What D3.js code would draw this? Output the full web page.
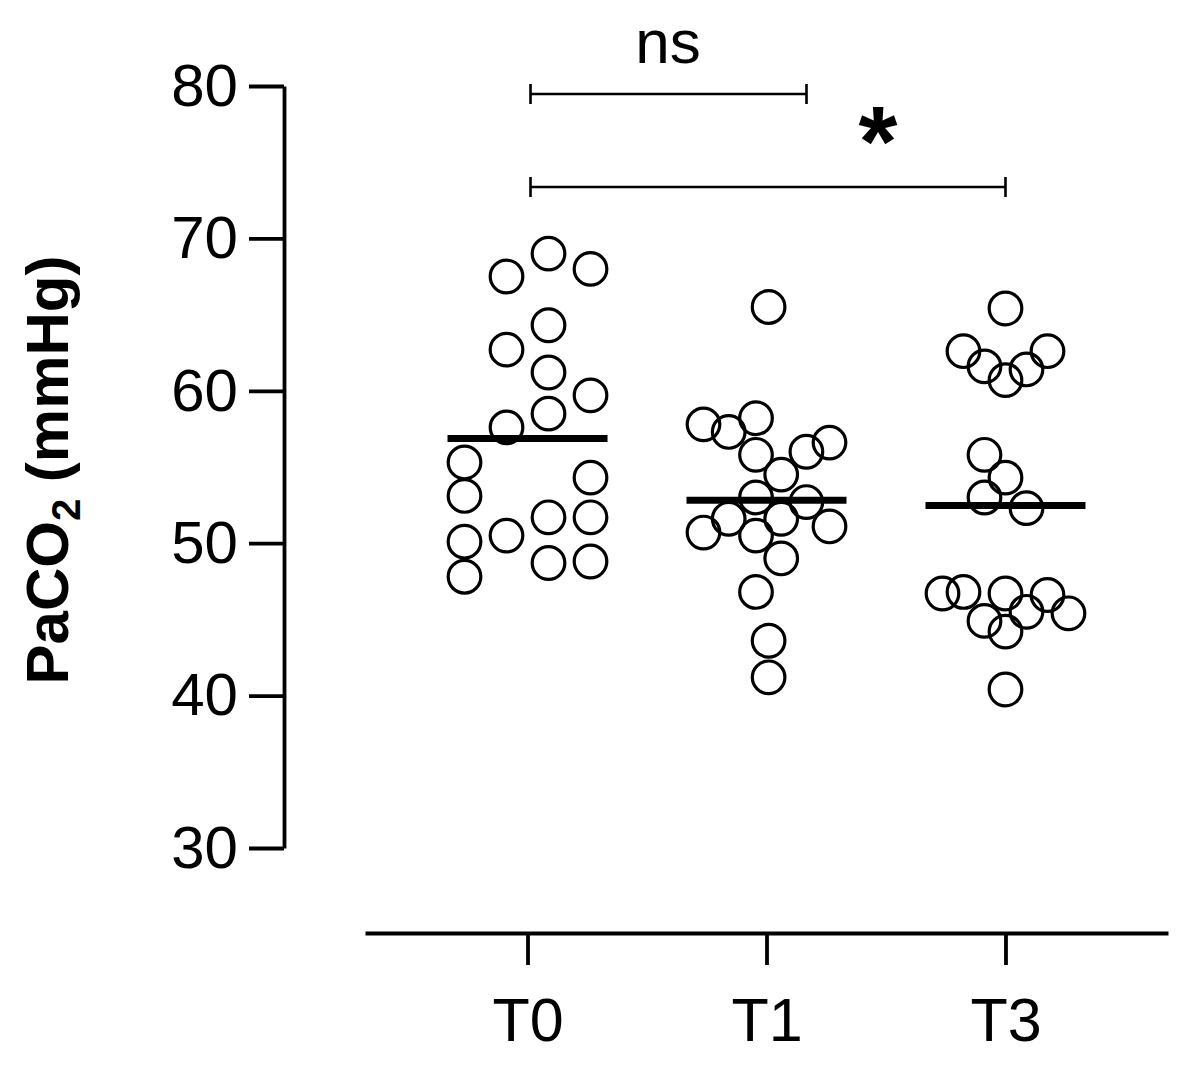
<!DOCTYPE html>
<html>
<head>
    <title>PaCO2</title>
    <script src="https://d3js.org/d3.v7.min.js"></script>
    <style>
      body{ margin:0; background:white; }
      svg{ font-family:"Liberation Sans", Arial, sans-serif; }
      .dot{ fill:none; stroke:black; stroke-width:3.2; }
      .mean{ stroke:black; stroke-width:7; }
      .axis path, .axis line{ stroke:black; stroke-width:3.8; }
      .axis text{ fill:black; }
      .bracket{ fill:none; stroke:black; stroke-width:2.6; }
    </style>
</head>
<body>
<script>
// groups on the x axis
var categories = ["T0", "T1", "T3"];

// PaCO2 readings (mmHg)
var valuesT0 = [69.0, 67.5, 68.0, 64.3, 62.7, 61.2, 59.7, 58.5, 57.6, 55.3,
                53.1, 54.3, 51.7, 51.7, 50.1, 50.5, 48.7, 48.8, 47.8];
var valuesT1 = [65.5, 57.8, 57.3, 58.2, 55.8, 56.0, 56.6, 54.5, 53.0, 52.7,
                51.6, 51.6, 50.7, 51.1, 50.5, 49.0, 46.8, 43.6, 41.2];
var valuesT3 = [65.4, 62.6, 61.6, 60.7, 61.4, 62.6, 55.8, 54.3, 53.0, 52.3,
                46.7, 46.8, 46.7, 46.6, 44.9, 45.5, 45.4, 44.2, 40.4];

// horizontal dodge of each dot (in half-dot columns), as the figure spreads them
var spreadT0 = [1, -1, 3, 1, -1, 1, 3, 1, -1, -3, -3, 3, 1, 3, -3, -1, 1, 3, -3];
var spreadT1 = [0.1, -3, -1.8, -0.5, -0.5, 1.9, 3, 0.7, -0.5, 1.9, -1.8, 0.7, -3, 3, -0.5, 0.7, -0.5, 0.1, 0.1];
var spreadT3 = [0, -2, -1, 0, 1, 2, -1, 0, -1, 1, -3, -2, 0, 2, -1, 1, 3, 0, 0];

var yTicks = [30, 40, 50, 60, 70, 80];

// significance brackets
var comparisons = [
  {from:"T0", to:"T1", label:"ns"},
  {from:"T0", to:"T3", label:"*"}
];

var groups = [
  {name:"T0", values:valuesT0, spread:spreadT0},
  {name:"T1", values:valuesT1, spread:spreadT1},
  {name:"T3", values:valuesT3, spread:spreadT3}
];

var svg = d3.select("body").append("svg").attr("width", 1190).attr("height", 1072);

var y = d3.scaleLinear().domain([30, 80]).range([848, 86]);
var x = d3.scalePoint().domain(categories).range([365, 1168]).padding(0.68);
var col = 21, r = 16.3;

// y axis
var yAxis = svg.append("g").attr("class", "axis").attr("transform", "translate(284,0)")
  .call(d3.axisLeft(y).tickValues(yTicks).tickSize(35).tickSizeOuter(0).tickPadding(11));
yAxis.selectAll("text").style("font-size", "60px");

// x axis
var xAxis = svg.append("g").attr("class", "axis").attr("transform", "translate(0,933)")
  .call(d3.axisBottom(x).tickSize(32).tickSizeOuter(0).tickPadding(33));
xAxis.selectAll("text").style("font-size", "61px");

// y title
var title = svg.append("text")
  .attr("transform", "translate(68,470) rotate(-90)")
  .attr("text-anchor", "middle")
  .style("font-size", "60px").style("font-weight", "bold");
title.append("tspan").text("PaCO");
title.append("tspan").text("2").style("font-size", "40px").attr("dy", "12");
title.append("tspan").text(" (mmHg)").attr("dy", "-12");

// dots
groups.forEach(function(g){
  svg.append("g").selectAll("circle").data(g.values).enter().append("circle")
    .attr("class", "dot")
    .attr("cx", function(d, i){ return x(g.name) + g.spread[i] * col; })
    .attr("cy", function(d){ return y(d); })
    .attr("r", r);
});

// mean lines
svg.append("g").selectAll("line").data(groups).enter().append("line")
  .attr("class", "mean")
  .attr("x1", function(g){ return x(g.name) - 80; })
  .attr("x2", function(g){ return x(g.name) + 80; })
  .attr("y1", function(g){ return y(d3.mean(g.values)); })
  .attr("y2", function(g){ return y(d3.mean(g.values)); });

// brackets
var bracketY = [94, 187], bracketEnd = [40, 0];
comparisons.forEach(function(c, i){
  var x1 = x(c.from) + 3, x2 = x(c.to) + bracketEnd[i], yy = bracketY[i];
  svg.append("path").attr("class", "bracket")
    .attr("d", "M" + x1 + "," + (yy - 10) + "V" + (yy + 10) + "M" + x1 + "," + yy + "H" + x2 +
               "M" + x2 + "," + (yy - 10) + "V" + (yy + 10));
});
svg.append("text").text(comparisons[0].label)
  .attr("x", 668).attr("y", 63).attr("text-anchor", "middle").style("font-size", "62px");
svg.append("text").text(comparisons[1].label)
  .attr("x", 878).attr("y", 176).attr("text-anchor", "middle")
  .style("font-size", "100px").style("font-weight", "bold");
</script>
</body>
</html>
